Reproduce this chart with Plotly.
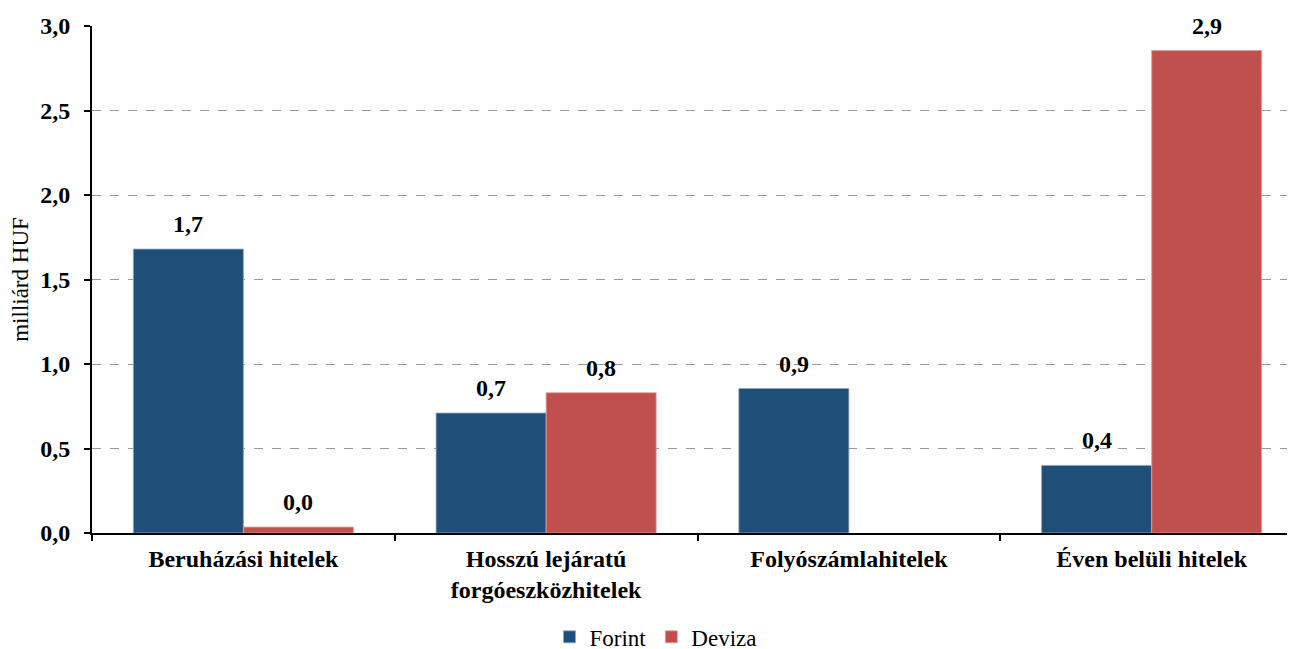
import plotly.graph_objects as go

categories = ["Beruházási hitelek", "Hosszú lejáratú<br>forgóeszközhitelek", "Folyószámlahitelek", "Éven belüli hitelek"]
forint = [1.68, 0.71, 0.855, 0.40]
deviza = [0.035, 0.83, None, 2.855]
y_ticks = [0.0, 0.5, 1.0, 1.5, 2.0, 2.5, 3.0]

FONT = "Liberation Serif"
C_FORINT = "#1F4E79"
C_DEVIZA = "#C0504D"

fig = go.Figure()
fig.add_trace(go.Bar(name="Forint", x=categories, y=forint, marker=dict(color=C_FORINT, line=dict(color="#8fa8c4", width=0.8))))
fig.add_trace(go.Bar(name="Deviza", x=categories, y=deviza, marker=dict(color=C_DEVIZA, line=dict(color="#e0a09e", width=0.8))))

def fmt(v):
    return f"{v:.1f}".replace(".", ",")

for i, (f, d) in enumerate(zip(forint, deviza)):
    if f is not None:
        fig.add_annotation(x=i, y=f, xshift=-55, yshift=25, text=fmt(f), showarrow=False,
                           font=dict(family=FONT, size=24, color="black", weight="bold"))
    if d is not None:
        fig.add_annotation(x=i, y=d, xshift=55, yshift=25, text=fmt(d), showarrow=False,
                           font=dict(family=FONT, size=24, color="black", weight="bold"))

fig.update_layout(
    width=1295, height=649,
    margin=dict(l=84, r=0, t=18, b=124),
    paper_bgcolor="white", plot_bgcolor="white",
    barmode="group", bargap=0.273, bargroupgap=0,
    separators=", ",
    font=dict(family=FONT, color="black"),
    showlegend=True,
    legend=dict(orientation="h", xref="container", x=0.5, xanchor="center", yref="container", y=0.031, yanchor="middle",
                font=dict(family=FONT, size=23, color="black"), itemwidth=30, tracegroupgap=0),
    xaxis=dict(
        automargin=False,
        showline=True, linecolor="black", linewidth=2,
        ticks="outside", tickson="boundaries", ticklen=6, tickwidth=2, tickcolor="black",
        tickfont=dict(family=FONT, size=24, color="black", weight="bold"),
        ticklabelstandoff=3,
        showgrid=False,
    ),
    yaxis=dict(
        automargin=False,
        range=[0, 3.0], tickvals=y_ticks, tickformat=".1f",
        showline=True, linecolor="black", linewidth=2,
        ticks="outside", ticklen=6, tickwidth=2, tickcolor="black",
        tickfont=dict(family=FONT, size=24, color="black", weight="bold"),
        ticklabelstandoff=9,
        showgrid=True, gridcolor="#999999", griddash="dash", gridwidth=1,
        zeroline=False,
        title=dict(text="milliárd HUF", font=dict(family=FONT, size=23, color="black"), standoff=8),
    ),
)

fig.write_html("out.html")
